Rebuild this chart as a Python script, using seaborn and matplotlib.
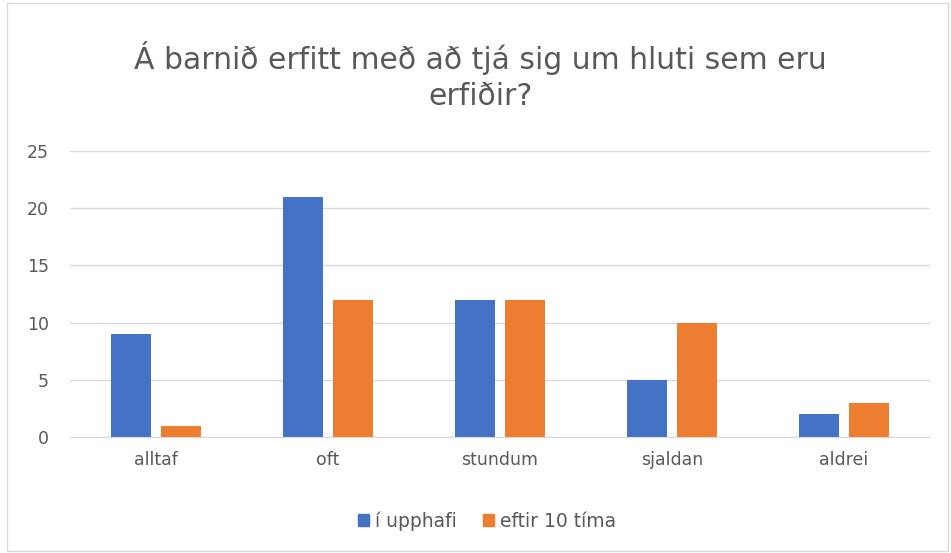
import pandas as pd
import matplotlib.pyplot as plt
import seaborn as sns
from matplotlib.patches import Patch

# --------------------------
# Data
# --------------------------

categories = ["alltaf", "oft", "stundum", "sjaldan", "aldrei"]
series_names = ["í upphafi", "eftir 10 tíma"]
upphafi = [9, 21, 12, 5, 2]
eftir = [1, 12, 12, 10, 3]
yticks = [0, 5, 10, 15, 20, 25]

df = pd.DataFrame({
    "flokkur": categories * 2,
    "röð": [series_names[0]] * len(categories) + [series_names[1]] * len(categories),
    "fjöldi": upphafi + eftir,
})

# --------------------------
# Style
# --------------------------

sns.set_style("white")
plt.rcParams["font.family"] = ["DejaVu Sans"]

fig = plt.figure(figsize=(9.51, 5.53), dpi=100)
ax = fig.add_axes([0.0736, 0.2098, 0.9044, 0.5172])

sns.barplot(
    data=df,
    x="flokkur",
    y="fjöldi",
    hue="röð",
    palette=["#4472C4", "#ED7D31"],
    width=0.58,
    gap=0.2,
    saturation=1,
    linewidth=0,
    ax=ax,
    legend=False,
)

ax.set_ylim(0, 25)
ax.set_yticks(yticks)
ax.yaxis.grid(True, color="#D9D9D9", linewidth=1)
ax.set_axisbelow(True)
for s in ["top", "right", "left"]:
    ax.spines[s].set_visible(False)
ax.spines["bottom"].set_color("#D9D9D9")
ax.tick_params(axis="both", length=0, labelsize=12.5, colors="#595959", pad=10)
ax.tick_params(axis="y", pad=15)
ax.set_xlabel("")
ax.set_ylabel("")

fig.text(0.505, 0.863, "Á barnið erfitt með að tjá sig um hluti sem eru\nerfiðir?",
         ha="center", va="center", fontsize=21.5, color="#595959", linespacing=1.3)

# legend
handles = [Patch(color="#4472C4"), Patch(color="#ED7D31")]
fig.legend(handles, series_names, loc="center", bbox_to_anchor=(0.512, 0.058),
           ncol=2, frameon=False, fontsize=13.5, handlelength=0.6, handleheight=0.6,
           columnspacing=1.4, handletextpad=0.3, labelcolor="#595959")

# border round the figure
fig.patches.append(plt.Rectangle((0.007, 0.004), 0.99, 0.99, transform=fig.transFigure,
                                 fill=False, edgecolor="#D9D9D9", linewidth=1))

fig.savefig("out.png", dpi=100)
